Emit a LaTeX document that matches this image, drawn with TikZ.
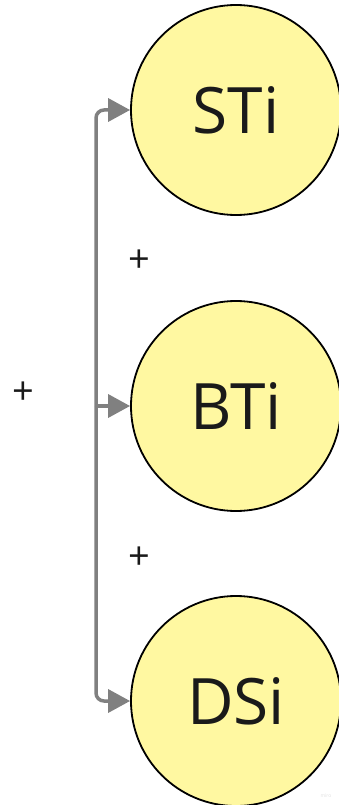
\documentclass[tikz,border=0pt]{standalone}
\usepackage{fontspec}
\setmainfont{Open Sans}
\usetikzlibrary{arrows.meta}

\definecolor{bubblefill}{RGB}{255,248,161}
\definecolor{linkgray}{RGB}{128,128,128}
\definecolor{inkdark}{RGB}{26,26,26}

\tikzset{
  bubble/.style={circle, draw=black, line width=1.8pt, fill=bubblefill,
    minimum size=210pt, inner sep=0pt, text=inkdark,
    font=\fontsize{64}{64}\selectfont},
  link/.style={draw=linkgray, line width=3.5pt, rounded corners=8pt,
    -{Triangle[length=22pt,width=23pt]}},
  plus/.style={text=inkdark, font=\fontsize{38}{38}\selectfont}
}

\begin{document}
\begin{tikzpicture}[x=1pt,y=-1pt]
    \useasboundingbox (0,0) rectangle (339,805);

    % the three topic bubbles
    \node[bubble] (sti) at (236,110) {STi};
    \node[bubble] (bti) at (236,406) {BTi};
    \node[bubble] (dsi) at (236,701) {DSi};

    % shared trunk on the left
    \coordinate (bus) at (96,406);

    \draw[link] (bus) |- (sti.west);
    \draw[link] (bus) |- (dsi.west);
    \draw[link] (bus) -- (bti.west);

    % plus signs between the bubbles
    \node[plus] (plusA) at (139,261) {+};
    \node[plus] (plusB) at (139,558) {+};
    \node[plus] (plusC) at (23,393) {+};

    \node[text=black!12, font=\fontsize{5}{5}\selectfont] (mark) at (326,796) {miro};
\end{tikzpicture}
\end{document}
